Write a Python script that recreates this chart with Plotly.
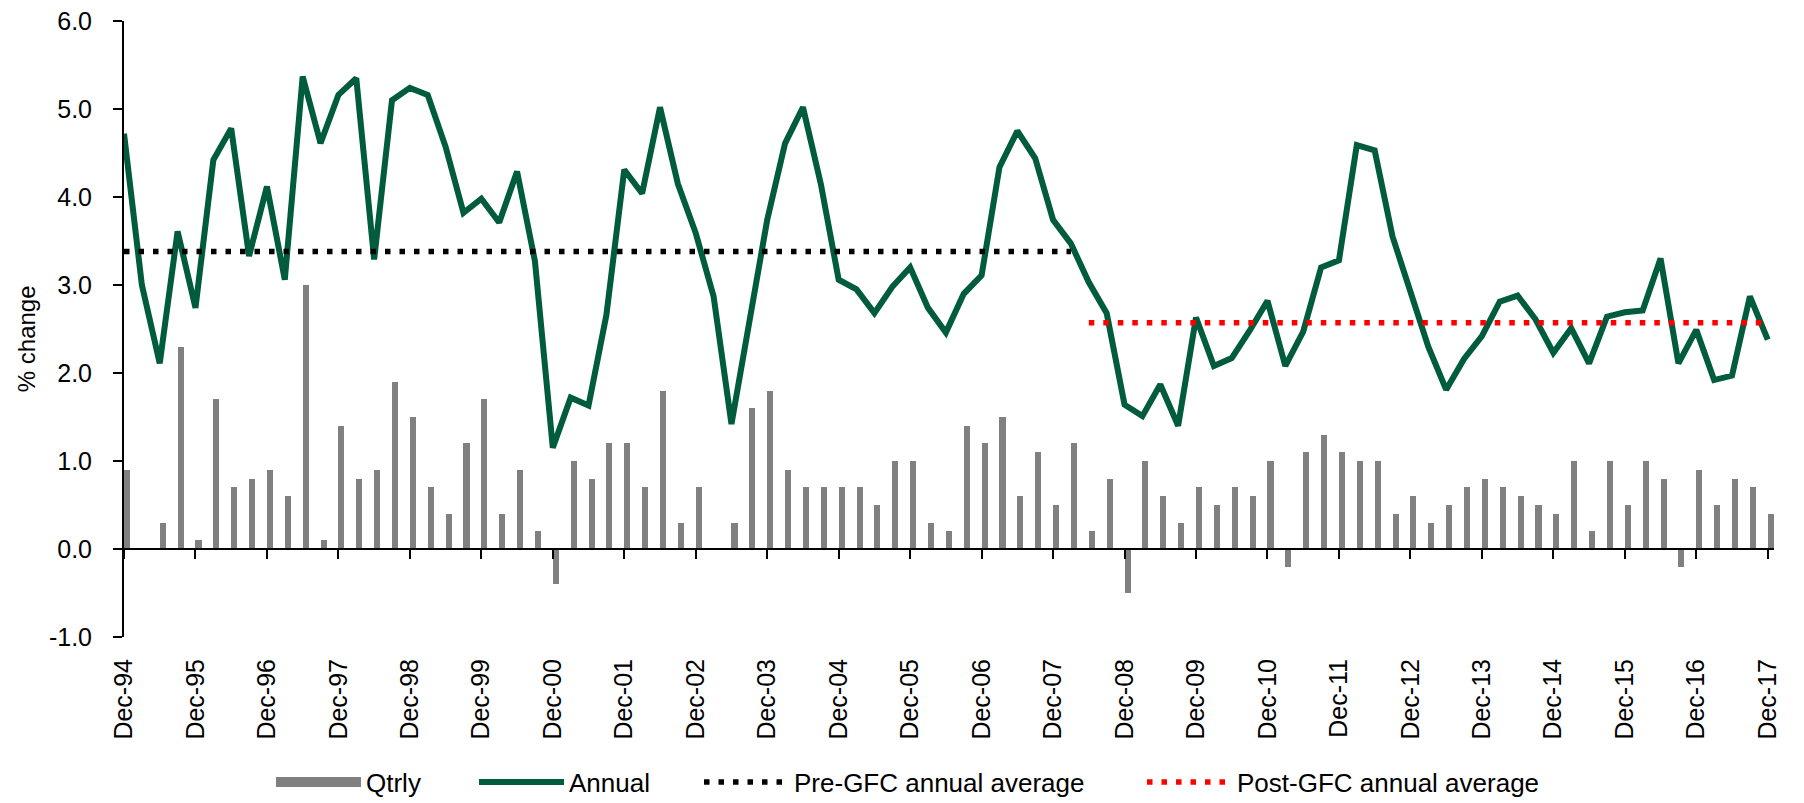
import plotly.graph_objects as go

# ---- Data ----
months = ["Mar", "Jun", "Sep", "Dec"]
quarters = ["Dec-94"] + [f"{m}-{y % 100:02d}" for y in range(1995, 2018) for m in months]

tick_labels = [f"Dec-{y % 100:02d}" for y in range(1994, 2018)]

annual = [
    4.72, 3.00, 2.11, 3.61, 2.74, 4.42, 4.78, 3.33, 4.12, 3.06,
    5.37, 4.61, 5.16, 5.35, 3.29, 5.10, 5.24, 5.16, 4.57, 3.82,
    3.98, 3.71, 4.29, 3.27, 1.15, 1.72, 1.63, 2.66, 4.31, 4.04,
    5.02, 4.15, 3.59, 2.87, 1.42, 2.58, 3.74, 4.61, 5.02, 4.15,
    3.06, 2.95, 2.68, 2.98, 3.20, 2.74, 2.46, 2.90, 3.11, 4.34,
    4.75, 4.44, 3.74, 3.47, 3.03, 2.68, 1.64, 1.51, 1.87, 1.40,
    2.63, 2.08, 2.17, 2.48, 2.82, 2.08, 2.47, 3.20, 3.28, 4.59,
    4.53, 3.55, 2.94, 2.30, 1.81, 2.16, 2.42, 2.81, 2.88, 2.61,
    2.23, 2.51, 2.11, 2.64, 2.69, 2.71, 3.30, 2.11, 2.49, 1.92,
    1.97, 2.87, 2.38,
]

qtrly = [
    0.9, 0.0, 0.3, 2.3, 0.1, 1.7, 0.7, 0.8, 0.9, 0.6,
    3.0, 0.1, 1.4, 0.8, 0.9, 1.9, 1.5, 0.7, 0.4, 1.2,
    1.7, 0.4, 0.9, 0.2, -0.4, 1.0, 0.8, 1.2, 1.2, 0.7,
    1.8, 0.3, 0.7, 0.0, 0.3, 1.6, 1.8, 0.9, 0.7, 0.7,
    0.7, 0.7, 0.5, 1.0, 1.0, 0.3, 0.2, 1.4, 1.2, 1.5,
    0.6, 1.1, 0.5, 1.2, 0.2, 0.8, -0.5, 1.0, 0.6, 0.3,
    0.7, 0.5, 0.7, 0.6, 1.0, -0.2, 1.1, 1.3, 1.1, 1.0,
    1.0, 0.4, 0.6, 0.3, 0.5, 0.7, 0.8, 0.7, 0.6, 0.5,
    0.4, 1.0, 0.2, 1.0, 0.5, 1.0, 0.8, -0.2, 0.9, 0.5,
    0.8, 0.7, 0.4,
]

pre_gfc_avg = 3.38
post_gfc_avg = 2.57
pre_gfc_span = ("Dec-94", "Mar-08")
post_gfc_span = ("Jun-08", "Dec-17")

y_tick_vals = [-1, 0, 1, 2, 3, 4, 5, 6]
y_tick_text = ["-1.0", "0.0", "1.0", "2.0", "3.0", "4.0", "5.0", "6.0"]

FONT = "Liberation Sans, Arial, sans-serif"
GREEN = "#005C3C"
GREY = "#808080"

fig = go.Figure()
fig.add_trace(go.Bar(
    x=quarters, y=qtrly, name="Qtrly", marker=dict(color=GREY, line=dict(width=0)),
    width=0.34, offset=0, xaxis="x", yaxis="y", legendgroup="q", showlegend=False,
))
# legend swatch for the quarterly bars (wide grey block like the original)
fig.add_trace(go.Scatter(
    x=[None], y=[None], name="Qtrly", mode="lines", line=dict(color=GREY, width=15),
    xaxis="x2", yaxis="y", legendgroup="q", legendwidth=103,
))
fig.add_trace(go.Scatter(
    x=quarters, y=annual, name="Annual", mode="lines",
    line=dict(color=GREEN, width=6), xaxis="x2", yaxis="y", legendwidth=125,
))
fig.add_trace(go.Scatter(
    x=list(pre_gfc_span), y=[pre_gfc_avg, pre_gfc_avg], name="Pre-GFC annual average",
    mode="lines", line=dict(color="black", width=5.5, dash="5.5px,9px"),
    xaxis="x2", yaxis="y", legendwidth=343,
))
fig.add_trace(go.Scatter(
    x=list(post_gfc_span), y=[post_gfc_avg, post_gfc_avg], name="Post-GFC annual average",
    mode="lines", line=dict(color="#FF0000", width=5.5, dash="5.5px,9px"),
    xaxis="x2", yaxis="y", legendwidth=310,
))

xrange = [0, 92.35]
fig.update_layout(
    width=1796, height=795,
    margin=dict(l=116, r=30, t=13, b=166, autoexpand=False),
    paper_bgcolor="white", plot_bgcolor="white",
    font=dict(family=FONT, color="black"),
    bargap=0,
    xaxis=dict(
        type="category", categoryorder="array", categoryarray=quarters, range=xrange,
        tickmode="array", tickvals=tick_labels, ticktext=tick_labels, tickangle=-90,
        ticks="", showline=False, showgrid=False, zeroline=False,
        tickfont=dict(size=25, family=FONT, color="black"), ticklabelstandoff=16,
        anchor="y",
    ),
    xaxis2=dict(
        type="category", categoryorder="array", categoryarray=quarters, range=xrange,
        overlaying="x", anchor="free", position=1 / 7,
        showline=True, linecolor="black", linewidth=2,
        ticks="outside", ticklen=9, tickwidth=2, tickcolor="black",
        tickmode="array", tickvals=tick_labels, showticklabels=False,
        showgrid=False, zeroline=False,
    ),
    yaxis=dict(
        range=[-1, 6], tickmode="array", tickvals=y_tick_vals, ticktext=y_tick_text,
        showline=True, linecolor="black", linewidth=2,
        ticks="outside", ticklen=9, tickwidth=2, tickcolor="black",
        showgrid=False, zeroline=False, ticklabeloverflow="allow",
        tickfont=dict(size=25, family=FONT, color="black"), ticklabelstandoff=16,
    ),
    legend=dict(
        orientation="h", x=0.0891, xanchor="left", y=-0.2354, yanchor="middle",
        font=dict(size=26, family=FONT, color="black"), itemwidth=85,
        bgcolor="rgba(0,0,0,0)", traceorder="normal",
    ),
    annotations=[dict(
        text="% change", textangle=-90, xref="paper", yref="paper",
        x=-0.0594, y=0.485, xanchor="center", yanchor="middle", showarrow=False,
        font=dict(size=24, family=FONT, color="black"),
    )],
)

fig.write_html("out.html")
